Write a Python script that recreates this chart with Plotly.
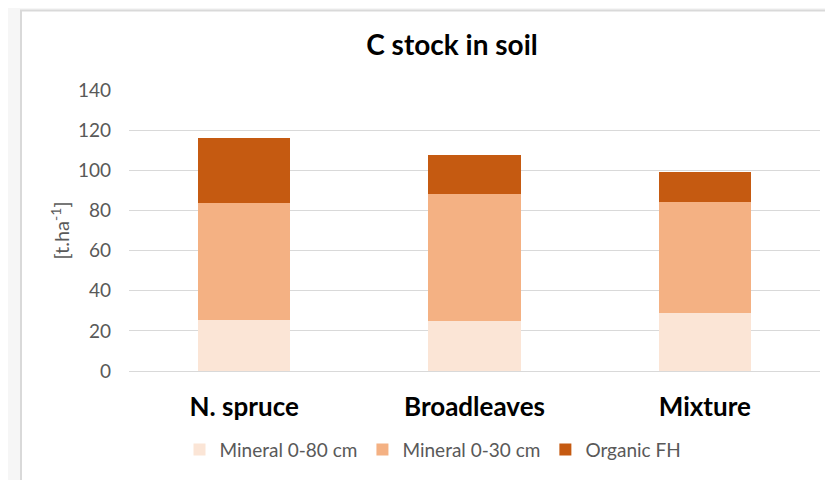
import plotly.graph_objects as go

# --- data (t/ha) ---
stands = ["N. spruce", "Broadleaves", "Mixture"]
mineral_0_80 = [25.6, 25.1, 28.7]
mineral_0_30 = [58.0, 63.3, 55.4]
organic_fh = [32.3, 19.0, 15.2]

series = [
    ("Mineral 0-80 cm", mineral_0_80, "#fbe5d6"),
    ("Mineral 0-30 cm", mineral_0_30, "#f4b183"),
    ("Organic FH", organic_fh, "#c55a11"),
]

FONT = "Lato"
GREY_TXT = "#595959"

fig = go.Figure()
for name, vals, col in series:
    fig.add_trace(go.Bar(
        x=stands, y=vals, name=name,
        marker=dict(color=col, line=dict(width=0)),
    ))

# page body has an 8px margin, so the figure is drawn 8px in from the window
OFF = 8
W, H = 833 - OFF, 480 - OFF
# plot area in window pixels: x 129..820, y 90..376
ML, MT = 129 - OFF, 90 - OFF
MR, MB = W - (820 - OFF), H - (376 - OFF)
pw, ph = W - ML - MR, H - MT - MB


def px_x(x):
    # window pixel -> paper fraction
    return (x - OFF - ML) / pw


def px_y(y):
    return (H - MB - (y - OFF)) / ph


# white chart area with thin grey frame (the Excel chart box)
fig.add_shape(
    type="rect", xref="paper", yref="paper", layer="below",
    x0=px_x(21), x1=px_x(900), y0=px_y(560), y1=px_y(9),
    fillcolor="white", line=dict(color="#d9d9d9", width=2),
)

fig.update_layout(
    width=W, height=H,
    barmode="stack",
    bargap=0.6,
    paper_bgcolor="#f6f6f6",
    plot_bgcolor="rgba(0,0,0,0)",
    margin=dict(l=ML, r=MR, t=MT, b=MB),
    font=dict(family=FONT, color=GREY_TXT, size=19),
    title=dict(
        text="<b>C stock in soil</b>",
        font=dict(family=FONT, size=28, color="#000000"),
        x=px_x(452), xanchor="center", xref="paper",
        y=1 - (45 - OFF) / H, yanchor="middle", yref="container",
    ),
    legend=dict(
        orientation="h",
        x=px_x(433), xanchor="center",
        y=px_y(456), yanchor="middle",
        font=dict(family=FONT, size=19, color=GREY_TXT),
        bgcolor="rgba(0,0,0,0)",
        itemwidth=30,
        traceorder="normal",
    ),
    showlegend=True,
)

fig.update_yaxes(
    range=[0, 140], dtick=20,
    showgrid=True, gridcolor="#d9d9d9", gridwidth=1,
    zeroline=True, zerolinecolor="#d9d9d9", zerolinewidth=1,
    showline=False, ticks="",
    ticklabelstandoff=17,
    tickfont=dict(family=FONT, size=19, color=GREY_TXT),
    title=dict(text="[t.ha<sup>-1</sup>]", standoff=2,
               font=dict(family=FONT, size=20, color=GREY_TXT)),
)
fig.update_xaxes(
    showgrid=False, showline=False, ticks="",
    ticklabelstandoff=18,
    tickfont=dict(family=FONT, size=26, color="#000000", weight="bold"),
)

fig.write_html("out.html")
